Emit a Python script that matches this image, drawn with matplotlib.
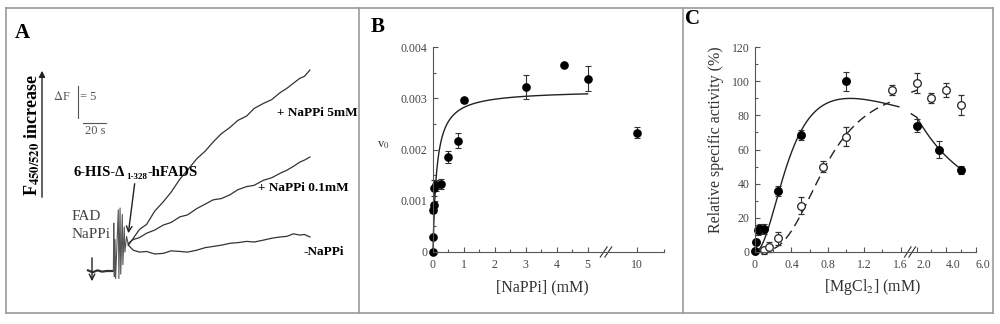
import numpy as np
import matplotlib.pyplot as plt
from matplotlib.lines import Line2D
from matplotlib.ticker import FixedLocator, FixedFormatter
from matplotlib.transforms import ScaledTranslation

plt.rcParams['font.family'] = ['Liberation Serif', 'DejaVu Serif']
plt.rcParams['mathtext.fontset'] = 'stix'

W, H = 1000, 324

# ---- panel A: fluorescence traces (time in s, delta F) ----
base_t = [0, 4, 8, 12, 16, 21.7]
base_f = [0.1, -0.2, 0.1, -0.1, 0.0, 0.0]
spike_t = [21.7, 22.0, 22.5, 23.1, 23.6, 25.9, 26.4, 27.4, 28.0, 29.3, 29.8, 31.0, 31.5, 33.0, 34.5]
spike_f = [0.0, 7.6, -0.9, 5.0, -1.2, 9.7, -1.2, 10.0, -0.5, 9.0, 1.0, 7.0, 3.0, 5.5, 4.1]
t_trace = [34.5, 38.7, 44.0, 50.1, 57.0, 64.4, 71.0, 78.6, 85.0, 92.9, 100.0, 107.1, 114.0,
           121.4, 128.0, 135.6, 142.0, 149.9, 157.0, 164.1, 170.0, 175.5, 181.2, 185.0, 189.7]
f_5mm = [4.1, 5.2, 6.6, 7.4, 9.5, 11.0, 12.5, 14.6, 16.0, 17.8, 19.0, 20.5, 21.8,
         22.8, 23.9, 24.6, 25.8, 26.6, 27.2, 28.3, 29.0, 29.8, 30.6, 30.9, 31.9]
f_01mm = [4.4, 5.0, 5.3, 6.0, 6.5, 7.3, 7.7, 8.6, 8.9, 9.9, 10.6, 11.3, 11.5,
          12.1, 12.9, 13.4, 13.6, 14.4, 14.8, 15.5, 16.0, 16.6, 17.3, 17.6, 18.1]
f_none = [4.1, 3.3, 3.0, 3.1, 2.7, 2.8, 3.2, 3.1, 3.0, 3.3, 3.7, 3.9, 4.1,
          4.4, 4.5, 4.7, 4.6, 4.9, 5.2, 5.4, 5.5, 5.9, 5.7, 5.8, 5.4]

# ---- panel B: v0 vs [NaPPi] ----
b_x = [0, 0.005, 0.01, 0.02, 0.03, 0.1, 0.25, 0.5, 0.8, 1.0, 3.0, 4.25, 5.0, 10.0]
b_v = [0, 0.0003, 0.00082, 0.00092, 0.00125, 0.0013, 0.00133, 0.00186, 0.00217,
       0.00296, 0.00322, 0.00364, 0.00338, 0.00233]
b_err = [0, 0, 0.00005, 0.00005, 0.00015, 0.0001, 0.0001, 0.00012, 0.00015,
         0.00005, 0.00023, 0, 0.00024, 0.0001]
b_vmax, b_km = 0.00316, 0.12  # Michaelis-Menten fit

# ---- panel C: relative activity vs [MgCl2] ----
c_fill_x = [0, 0.01, 0.03, 0.06, 0.1, 0.25, 0.5, 1.0, 2.0, 3.5, 5.0]
c_fill_y = [0.5, 5.6, 13, 13.5, 13.5, 35.5, 68.5, 100, 74, 60, 48]
c_fill_e = [0, 0, 3, 3, 3, 3, 3, 5.5, 4, 5, 2.5]
c_open_x = [0.1, 0.15, 0.25, 0.5, 0.75, 1.0, 1.5, 2.0, 3.0, 4.0, 5.0]
c_open_y = [1, 3, 8, 27, 50, 67.5, 95, 99, 90, 95, 86]
c_open_e = [2, 3, 4, 5, 3, 5.5, 3, 6, 3, 4, 6]
# fits: solid (Hill activation x inhibition), dashed (Hill)
s_vmax, s_k, s_n, s_ki = 155, 0.45, 2, 2.3
d_vmax, d_k, d_n = 100, 0.77, 3


def px(x, y):
    return x / W, 1 - y / H


fig = plt.figure(figsize=(10, 3.24), dpi=100)
rend = fig.canvas.get_renderer()

# frame and panel dividers
frame = '#9a9a9a'
for xs, ys in [([6, 993], [8, 8]), ([6, 993], [313, 313]), ([6, 6], [8, 313]),
               ([993, 993], [8, 313]), ([359, 359], [8, 313]), ([683, 683], [8, 313])]:
    fig.add_artist(Line2D([x / W for x in xs], [1 - y / H for y in ys], color=frame, lw=1.2))

# ---------------- panel A ----------------
axA = fig.add_axes([10 / W, 12 / H, 345 / W, 300 / H])
axA.set_xlim((10 - 88) / 1.17, (355 - 88) / 1.17)
axA.set_ylim((271 - 312) / 6.3, (271 - 12) / 6.3)
axA.axis('off')
tc = '#333333'
axA.plot(base_t, base_f, color=tc, lw=1.6)
axA.plot(spike_t, spike_f, color='#555555', lw=0.8)
axA.plot(t_trace, f_5mm, color=tc, lw=0.9)
axA.plot(t_trace, f_01mm, color=tc, lw=0.9)
axA.plot(t_trace, f_none, color=tc, lw=0.9)
# scale bars
axA.plot([-8.8, -8.8], [24.3, 29.3], color='#555555', lw=0.8)
axA.plot([-4.3, 15.7], [23.5, 23.5], color='#555555', lw=0.8)

fig.text(*px(22, 33), 'A', fontsize=15, fontweight='bold', ha='center', va='center')
fig.text(*px(32, 135), r'F$_{\mathbf{450/520}}$ increase', fontsize=13, fontweight='bold',
         rotation=90, ha='center', va='center')
axA.annotate('', xy=px(42, 68), xytext=px(42, 200), xycoords='figure fraction',
             arrowprops=dict(arrowstyle='-|>', color='#222222', lw=1, mutation_scale=9))
fig.text(*px(62, 97), r'$\Delta$F', fontsize=9, color='#555555', ha='center', va='center')
fig.text(*px(80, 97), '= 5', fontsize=9, color='#555555', ha='left', va='center')
fig.text(*px(95, 131), '20 s', fontsize=9, color='#555555', ha='center', va='center')
fig.text(*px(277, 113), '+ NaPPi 5mM', fontsize=9.5, fontweight='bold', ha='left', va='center')
fig.text(*px(258, 188), '+ NaPPi 0.1mM', fontsize=9.5, fontweight='bold', ha='left', va='center')
fig.text(*px(304, 252), '-NaPPi', fontsize=9.5, fontweight='bold', ha='left', va='center')

# protein label with a lowered small "1-328", pieces placed one after another
x_run = 74
for piece, size, y in [('6-HIS-\u0394', 10.5, 173), ('1-328', 6.5, 177), ('-hFADS', 10.5, 173)]:
    t = fig.text(*px(x_run, y), piece, fontsize=size, fontweight='bold', ha='left', va='center')
    x_run = t.get_window_extent(rend).x1 + 0.5

fig.text(*px(72, 217), 'FAD', fontsize=11, color='#444444', ha='left', va='center')
fig.text(*px(72, 234), 'NaPPi', fontsize=11, color='#444444', ha='left', va='center')
axA.annotate('', xy=px(92, 284), xytext=px(92, 255), xycoords='figure fraction',
             arrowprops=dict(arrowstyle='->', color='#222222', lw=1, mutation_scale=10))
axA.annotate('', xy=px(128, 236), xytext=px(135, 181), xycoords='figure fraction',
             arrowprops=dict(arrowstyle='->', color='#222222', lw=1, mutation_scale=10))


def style_axis(ax):
    for s in ['top', 'right']:
        ax.spines[s].set_visible(False)
    for s in ['left', 'bottom']:
        ax.spines[s].set_color('#555555')
        ax.spines[s].set_linewidth(0.8)
    ax.tick_params(which='both', direction='in', colors='#555555', labelcolor='#444444',
                   labelsize=8.5, width=0.8)
    ax.tick_params(which='major', length=3.5)
    ax.tick_params(which='minor', length=2)
    ax.tick_params(axis='x', pad=5)
    ax.tick_params(axis='y', pad=4)


def breakmark(ax, xf):
    for dx in (0, 0.02):
        ax.plot([xf - 0.025 + dx, xf + 0.005 + dx], [-0.025, 0.025], transform=ax.transAxes,
                color='#333333', lw=0.8, clip_on=False)


# ---------------- panel B ----------------
b_xp = [-10, 5, 10, 30]
b_fp = [-10, 5, 6.59, 6.59 + 20 * 0.176]
axB = fig.add_axes([433 / W, (H - 252) / H, 231 / W, 205 / H])
axB.set_xscale('function', functions=(lambda x: np.interp(x, b_xp, b_fp),
                                      lambda y: np.interp(y, b_fp, b_xp)))
axB.set_xlim(0, 15)
axB.set_ylim(0, 0.004)
xx = np.linspace(0, 5, 400)
axB.plot(xx, b_vmax * xx / (b_km + xx), color='#222222', lw=1)
axB.errorbar(b_x, b_v, yerr=b_err, fmt='o', color='black', ms=5.2, ecolor='#333333',
             elinewidth=0.8, capsize=2.5, capthick=0.8)
for art in axB.lines + axB.collections:
    art.set_clip_on(False)
style_axis(axB)
axB.xaxis.set_major_locator(FixedLocator([0, 1, 2, 3, 4, 5, 10]))
axB.xaxis.set_major_formatter(FixedFormatter(['0', '1', '2', '3', '4', '5', '10']))
axB.xaxis.set_minor_locator(FixedLocator([0.5, 1.5, 2.5, 3.5, 4.5, 15]))
axB.yaxis.set_major_locator(FixedLocator([0, 0.001, 0.002, 0.003, 0.004]))
axB.yaxis.set_major_formatter(FixedFormatter(['0', '0.001', '0.002', '0.003', '0.004']))
axB.yaxis.set_minor_locator(FixedLocator([0.0005, 0.0015, 0.0025, 0.0035]))
breakmark(axB, (606 - 433) / 231)
fig.text(*px(378, 27), 'B', fontsize=15, fontweight='bold', ha='center', va='center')
fig.text(*px(542, 287), '[NaPPi] (mM)', fontsize=11.5, color='#333333', ha='center', va='center')
fig.text(*px(383, 145), r'v$_0$', fontsize=9, color='#333333', ha='center', va='center')

# ---------------- panel C ----------------
c_xp = [-10, 1.6, 2.0, 20]
c_fp = [-10, 1.6, 1.775, 1.775 + 18 * 0.163]
axC = fig.add_axes([755 / W, (H - 252) / H, 221 / W, 205 / H])
axC.set_xscale('function', functions=(lambda x: np.interp(x, c_xp, c_fp),
                                      lambda y: np.interp(y, c_fp, c_xp)))
axC.set_xlim(0, 6)
axC.set_ylim(0, 120)


def solid_fit(x):
    return s_vmax * x ** s_n / (s_k ** s_n + x ** s_n) * s_ki / (s_ki + x)


def dashed_fit(x):
    return d_vmax * x ** d_n / (d_k ** d_n + x ** d_n)


x1 = np.linspace(0, 1.58, 300)
x2 = np.linspace(1.865, 5.0, 300)
axC.plot(x1, solid_fit(x1), color='#222222', lw=1)
axC.plot(x2, solid_fit(x2), color='#222222', lw=1)
xd1 = np.linspace(0.05, 1.48, 300)
xd2 = np.linspace(1.865, 2.06, 50)
axC.plot(xd1, dashed_fit(xd1), color='#222222', lw=1, ls=(0, (7, 4)))
axC.plot(xd2, dashed_fit(xd2), color='#222222', lw=1, ls=(0, (7, 4)))
axC.errorbar(c_open_x, c_open_y, yerr=c_open_e, fmt='o', mfc='white', mec='#222222', mew=0.9,
             ms=5.5, ecolor='#333333', elinewidth=0.8, capsize=2.5, capthick=0.8)
axC.errorbar(c_fill_x, c_fill_y, yerr=c_fill_e, fmt='o', color='black', ms=5.4,
             ecolor='#333333', elinewidth=0.8, capsize=2.5, capthick=0.8)
for art in axC.lines + axC.collections:
    art.set_clip_on(False)
style_axis(axC)
axC.xaxis.set_major_locator(FixedLocator([0, 0.4, 0.8, 1.2, 1.6, 2, 4, 6]))
axC.xaxis.set_major_formatter(FixedFormatter(['0', '0.4', '0.8', '1.2', '1.6', '2.0', '4.0', '6.0']))
axC.xaxis.set_minor_locator(FixedLocator([0.2, 0.6, 1.0, 1.4, 3, 5]))
axC.yaxis.set_major_locator(FixedLocator(np.arange(0, 121, 20)))
axC.yaxis.set_minor_locator(FixedLocator(np.arange(10, 120, 20)))
# the labels after the break sit a little right of their ticks in the original
shift = ScaledTranslation(0.07, 0, fig.dpi_scale_trans)
for lab in axC.get_xticklabels()[5:]:
    lab.set_transform(lab.get_transform() + shift)
breakmark(axC, (910 - 755) / 221)
fig.text(*px(693, 19), 'C', fontsize=15, fontweight='bold', ha='center', va='center')
fig.text(*px(873, 287), r'[MgCl$_2$] (mM)', fontsize=11.5, color='#333333', ha='center', va='center')
fig.text(*px(716, 140), 'Relative specific activity (%)', fontsize=11.5, color='#333333',
         rotation=90, ha='center', va='center')

fig.savefig('out.png', dpi=100)
